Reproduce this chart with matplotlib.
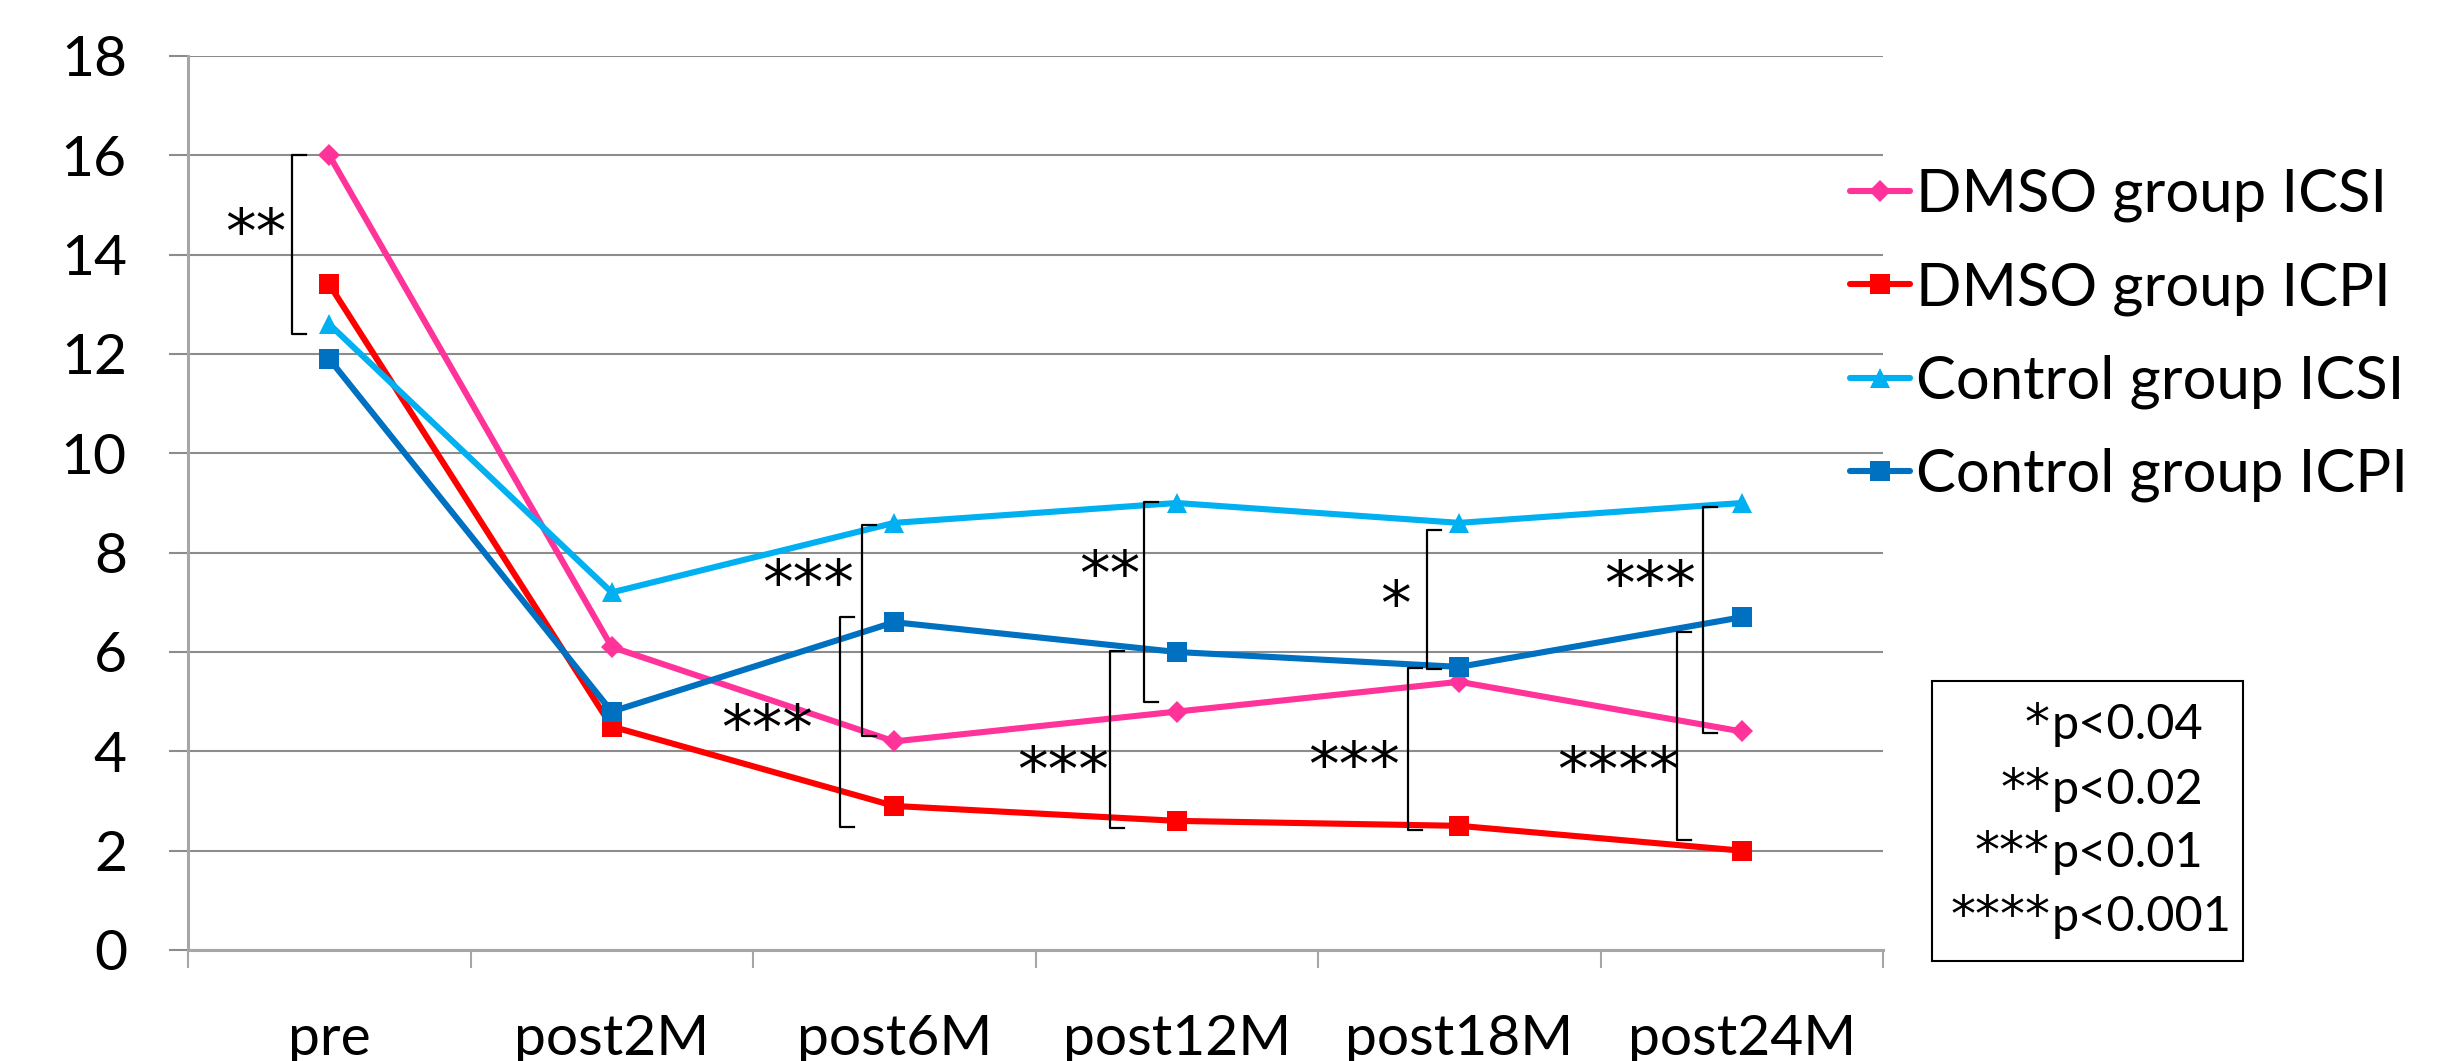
import matplotlib
matplotlib.use("Agg")
import matplotlib.pyplot as plt
from matplotlib.patches import Rectangle

# ---------------- data ----------------
categories = ["pre", "post2M", "post6M", "post12M", "post18M", "post24M"]
series_names = ["DMSO group ICSI", "DMSO group ICPI", "Control group ICSI", "Control group ICPI"]
dmso_icsi = [16.0, 6.1, 4.2, 4.8, 5.4, 4.4]
dmso_icpi = [13.4, 4.5, 2.9, 2.6, 2.5, 2.0]
control_icsi = [12.6, 7.2, 8.6, 9.0, 8.6, 9.0]
control_icpi = [11.9, 4.8, 6.6, 6.0, 5.7, 6.7]
y_ticks = [0, 2, 4, 6, 8, 10, 12, 14, 16, 18]

# significance brackets (x in category units, y in data units)
bracket_x = [-0.132, 1.886, 1.808, 2.884, 2.764, 3.886, 3.819, 4.863, 4.771]
bracket_top = [16.0, 8.55, 6.70, 9.02, 6.02, 8.45, 5.68, 8.92, 6.40]
bracket_bottom = [12.4, 4.31, 2.48, 4.99, 2.46, 5.66, 2.42, 4.37, 2.21]
star_labels = ["**", "***", "***", "**", "***", "*", "***", "***", "****"]
star_x = [-0.259, 1.695, 1.55, 2.764, 2.597, 3.773, 3.627, 4.675, 4.562]
star_y = [14.39, 7.31, 4.39, 7.51, 3.56, 6.9, 3.66, 7.29, 3.56]

pvalue_stars = ["*", "**", "***", "****"]
pvalue_text = ["p<0.04", "p<0.02", "p<0.01", "p<0.001"]

# ---------------- styles ----------------
colors = ["#FF3399", "#FF0000", "#00B0F0", "#0070C0"]
markers = ["D", "s", "^", "s"]
msizes = [11.5, 14, 14.5, 14]
grid_col = "#8c8c8c"
axis_col = "#a6a6a6"

W, H = 2450, 1061
fig = plt.figure(figsize=(W / 100, H / 100), dpi=100)
ax = fig.add_axes([188 / W, (H - 950) / H, 1695 / W, 894 / H])

x = list(range(len(categories)))
all_series = [dmso_icsi, dmso_icpi, control_icsi, control_icpi]
handles = []
for vals, name, c, m, ms in zip(all_series, series_names, colors, markers, msizes):
    h, = ax.plot(x, vals, color=c, lw=4.4, marker=m, markersize=ms,
                 markeredgewidth=0, label=name, zorder=3, solid_capstyle="round")
    handles.append(h)

ax.set_xlim(-0.5, len(categories) - 0.5)
ax.set_ylim(0, 18)
ax.set_yticks(y_ticks)
ax.set_yticklabels([str(v) for v in y_ticks], fontfamily="Lato", fontsize=41)
ax.yaxis.grid(True, color=grid_col, lw=1.5, zorder=0)
ax.set_axisbelow(True)
ax.tick_params(axis="y", length=14, width=1.5, color=grid_col, pad=30, direction="out")

ax.set_xticks(x)
ax.set_xticklabels(categories, fontfamily="Lato", fontsize=41)
ax.set_xticks([i - 0.5 for i in range(len(categories) + 1)], minor=True)
ax.tick_params(axis="x", which="major", length=0, pad=46)
ax.tick_params(axis="x", which="minor", length=13, width=1.5, color=axis_col, direction="out")

for s in ["top", "right"]:
    ax.spines[s].set_visible(False)
for s in ["left", "bottom"]:
    ax.spines[s].set_color(axis_col)
    ax.spines[s].set_linewidth(2.2)

# brackets
arm = 0.048
for bx, bt, bb in zip(bracket_x, bracket_top, bracket_bottom):
    ax.plot([bx + arm, bx, bx, bx + arm], [bt, bt, bb, bb], color="black", lw=1.6,
            zorder=4, clip_on=False)
for lab, sx, sy in zip(star_labels, star_x, star_y):
    ax.text(sx, sy, lab, ha="center", va="center", fontsize=44,
            fontfamily="DejaVu Sans", color="black", zorder=5)

# legend
leg = fig.legend(handles=handles, loc="upper left",
                 bbox_to_anchor=(1850 / W, 1 - 168 / H),
                 frameon=False, prop={"family": "Lato", "size": 43},
                 handlelength=1.0, handletextpad=0.1, labelspacing=0.65,
                 borderpad=0, borderaxespad=0)

# p-value box
bx0, by0, bx1, by1 = 1932, 681, 2243, 961
fig.add_artist(Rectangle((bx0 / W, 1 - by1 / H), (bx1 - bx0) / W, (by1 - by0) / H,
                         transform=fig.transFigure, fill=False, edgecolor="black", lw=1.5))
baselines = [739, 804, 867, 931]
split_x = 2050
for st, txt, bl in zip(pvalue_stars, pvalue_text, baselines):
    fig.text(split_x / W, 1 - bl / H, st, ha="right", va="baseline",
             fontfamily="DejaVu Sans", fontsize=36)
    fig.text((split_x + 2) / W, 1 - bl / H, txt, ha="left", va="baseline",
             fontfamily="Lato", fontsize=35)

fig.savefig("out.png", dpi=100)
